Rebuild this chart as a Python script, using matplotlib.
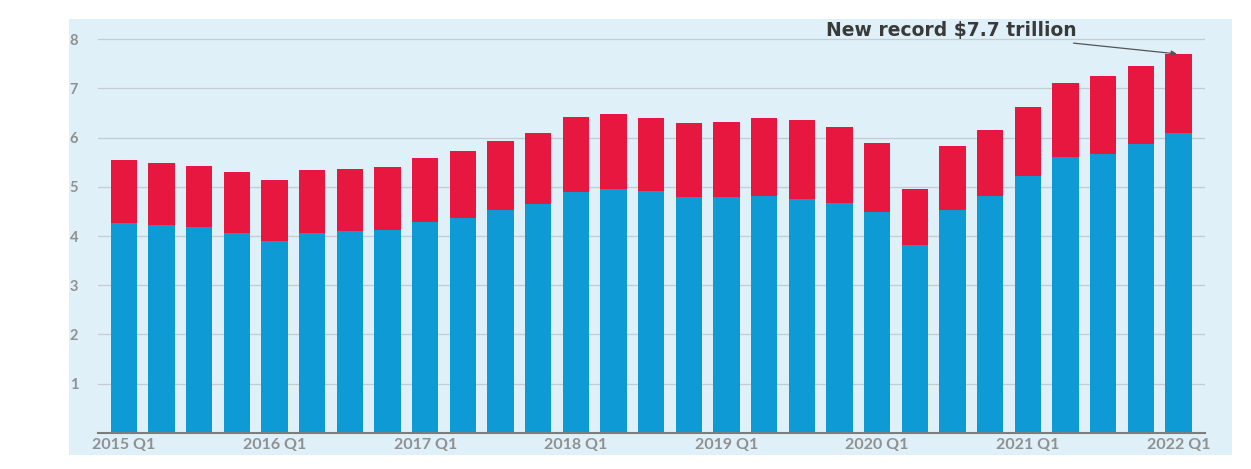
import numpy as np
import matplotlib
matplotlib.use("Agg")
import matplotlib.pyplot as plt
from matplotlib.patches import Rectangle

# quarters 2015 Q1 .. 2022 Q1
quarters = [f"{y} Q{q}" for y in range(2015, 2022) for q in range(1, 5)] + ["2022 Q1"]

# lower (blue) part and total height, trillions of dollars
blue = [4.27, 4.22, 4.18, 4.06, 3.90, 4.06, 4.10, 4.12,
        4.28, 4.37, 4.53, 4.65, 4.90, 4.96, 4.92, 4.80,
        4.80, 4.82, 4.76, 4.67, 4.49, 3.82, 4.53, 4.82,
        5.22, 5.61, 5.67, 5.87, 6.09]
total = [5.54, 5.48, 5.43, 5.30, 5.13, 5.35, 5.37, 5.41,
         5.58, 5.72, 5.93, 6.09, 6.43, 6.48, 6.41, 6.30,
         6.32, 6.41, 6.35, 6.22, 5.90, 4.96, 5.83, 6.15,
         6.63, 7.11, 7.25, 7.45, 7.70]
red = [t - b for t, b in zip(total, blue)]

xtick_pos = list(range(0, len(quarters), 4))
xtick_labels = [quarters[i] for i in xtick_pos]
yticks = [1, 2, 3, 4, 5, 6, 7, 8]

BLUE = "#0d9ad5"
RED = "#e8173f"
PANEL = "#dff0f8"
GREY = "#909090"

plt.rcParams["font.family"] = ["Lato", "DejaVu Sans"]

fig = plt.figure(figsize=(12.51, 4.69), dpi=100)
fig.patch.set_facecolor("white")

# light blue card behind the chart and labels
fig.patches.append(Rectangle((0.055, 0.03), 0.93, 0.93, transform=fig.transFigure,
                             facecolor=PANEL, edgecolor="none", zorder=-5))

ax = fig.add_axes([0.078, 0.077, 0.885, 0.855])
ax.set_zorder(2)
ax.set_facecolor(PANEL)

x = np.arange(len(quarters))
ax.bar(x, blue, width=0.7, color=BLUE, zorder=3)
ax.bar(x, red, width=0.7, bottom=blue, color=RED, zorder=3)

ax.set_xlim(-0.7, len(quarters) - 0.3)
ax.set_ylim(0, 8.15)

ax.set_yticks(yticks)
ax.set_yticklabels([str(v) for v in yticks])
ax.set_xticks(xtick_pos)
ax.set_xticklabels(xtick_labels)
ax.tick_params(axis="both", length=0, colors=GREY)
ax.tick_params(axis="y", pad=14, labelsize=10.5)
ax.tick_params(axis="x", pad=4, labelsize=11.5)
for lab in ax.get_xticklabels() + ax.get_yticklabels():
    lab.set_fontweight("bold")

ax.grid(axis="y", color="#c4ccd2", linewidth=0.9, zorder=1)
for side in ["top", "right", "left"]:
    ax.spines[side].set_visible(False)
ax.spines["bottom"].set_color("#7d7d7d")
ax.spines["bottom"].set_linewidth(1.5)
ax.spines["bottom"].set_zorder(4)

ax.annotate("New record $7.7 trillion",
            xy=(x[-1], total[-1]), xytext=(25.3, 8.18),
            ha="right", va="center", fontsize=13.5, fontweight="bold",
            color="#3a3a3a", family=["DejaVu Sans"],
            annotation_clip=False,
            arrowprops=dict(arrowstyle="-|>", color="#555555", lw=0.9,
                            mutation_scale=8, shrinkA=3, shrinkB=1))

fig.savefig("out.png", dpi=100, facecolor=fig.get_facecolor())
